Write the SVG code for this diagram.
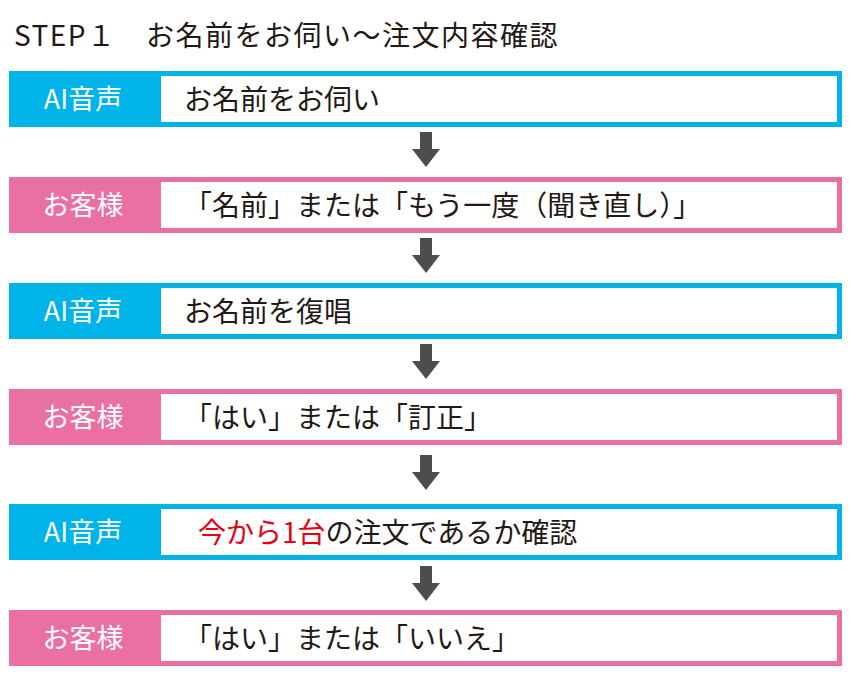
<svg xmlns="http://www.w3.org/2000/svg" width="850" height="698" viewBox="0 0 850 698">
<style>
text{font-family:"Noto Sans CJK JP","Noto Sans",sans-serif;}
.lb{fill:#fff;font-size:27px;text-anchor:middle;}
.tx{fill:#231815;font-size:28px;}
.ai{fill:#00b4ea;}
.cu{fill:#ea6fa2;}
.aw{fill:#4d4d4d;}
</style>
<rect width="850" height="698" fill="#fff"/>
<text x="14" y="46" fill="#231815" font-size="28" letter-spacing="1.5">STEP１　お名前をお伺い～注文内容確認</text>
<g id="connectors">
<path class="aw" d="M420 132h12v17h8l-14 18-14-18h8z"/>
<path class="aw" d="M420 238h12v17h8l-14 18-14-18h8z"/>
<path class="aw" d="M420 344h12v17h8l-14 18-14-18h8z"/>
<path class="aw" d="M420 455h12v17h8l-14 18-14-18h8z"/>
<path class="aw" d="M420 566h12v17h8l-14 18-14-18h8z"/>
</g>
<g id="n1"><rect class="ai" x="9" y="71" width="833" height="56"/><rect fill="#fff" x="161" y="76" width="676" height="46"/><text class="lb" x="83" y="109">AI音声</text><text class="tx" x="184" y="110">お名前をお伺い</text></g>
<g id="n2"><rect class="cu" x="9" y="177" width="833" height="56"/><rect fill="#fff" x="161" y="182" width="676" height="46"/><text class="lb" x="83" y="215">お客様</text><text class="tx" x="184" y="216">「名前」または「もう一度（聞き直し）」</text></g>
<g id="n3"><rect class="ai" x="9" y="283" width="833" height="56"/><rect fill="#fff" x="161" y="288" width="676" height="46"/><text class="lb" x="83" y="321">AI音声</text><text class="tx" x="184" y="322">お名前を復唱</text></g>
<g id="n4"><rect class="cu" x="9" y="389" width="833" height="56"/><rect fill="#fff" x="161" y="394" width="676" height="46"/><text class="lb" x="83" y="427">お客様</text><text class="tx" x="184" y="428">「はい」または「訂正」</text></g>
<g id="n5"><rect class="ai" x="9" y="504" width="833" height="56"/><rect fill="#fff" x="161" y="509" width="676" height="46"/><text class="lb" x="83" y="542">AI音声</text><text class="tx" x="198" y="543"><tspan fill="#e60012">今から1台</tspan>の注文であるか確認</text></g>
<g id="n6"><rect class="cu" x="9" y="610" width="833" height="56"/><rect fill="#fff" x="161" y="615" width="676" height="46"/><text class="lb" x="83" y="648">お客様</text><text class="tx" x="184" y="649">「はい」または「いいえ」</text></g>
</svg>
